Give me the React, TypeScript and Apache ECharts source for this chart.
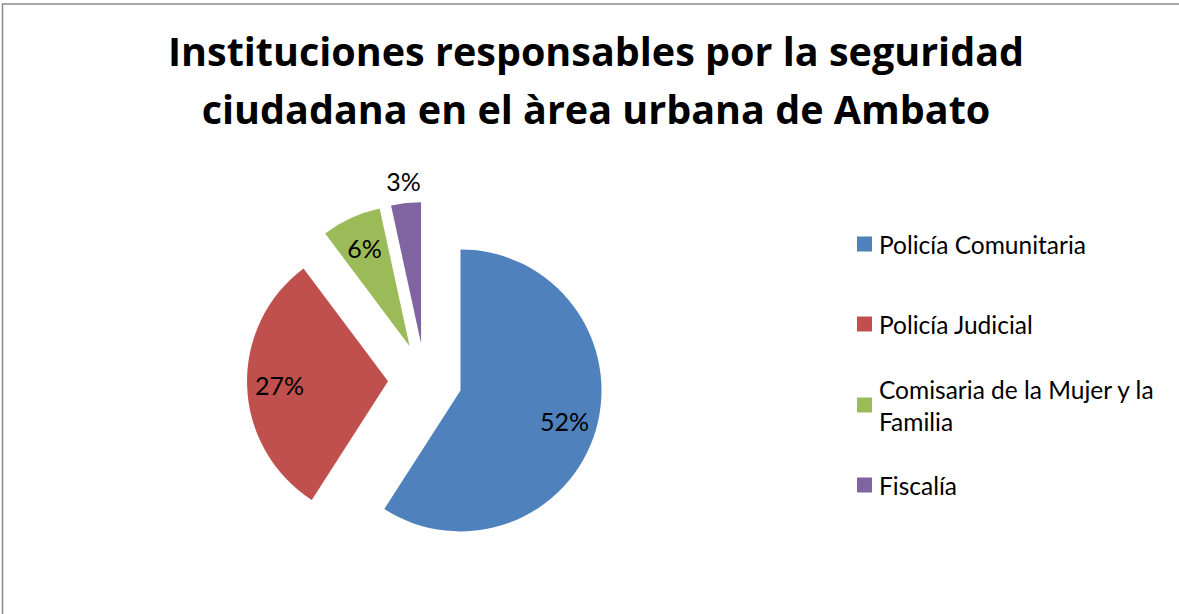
import React, { useEffect, useRef } from "react";
import * as echarts from "echarts";

const categories = ["Policía Comunitaria", "Policía Judicial", "Comisaria de la Mujer y la Familia", "Fiscalía"];
const values = [52, 27, 6, 3];
const colors = ["#4F81BD", "#C0504D", "#9BBB59", "#8064A2"];
const titleLines = ["Instituciones responsables por la seguridad", "ciudadana en el àrea urbana de Ambato"];

const FONT = "Lato, 'Open Sans', sans-serif";
const TITLE_FONT = "'Open Sans', Lato, sans-serif";

export default function App() {
  const ref = useRef<HTMLDivElement>(null);
  useEffect(() => {
    if (!ref.current) return;
    const chart = echarts.init(ref.current, undefined, { renderer: "svg" });
    const center = [425, 380];
    const R = 141;
    const OFF = 37;
    const baseData = (labelShow: (i: number) => boolean, transparent: boolean) =>
      categories.map((name, i) => ({
        name,
        value: values[i],
        selected: true,
        itemStyle: { color: transparent ? "rgba(0,0,0,0)" : colors[i] },
        select: { itemStyle: { color: transparent ? "rgba(0,0,0,0)" : colors[i] } },
        label: { show: labelShow(i) },
      }));
    const labelCommon = {
      position: "inside",
      formatter: "{c}%",
      color: "#000",
      fontFamily: FONT,
      fontSize: 25,
    };
    const legendText = { fontFamily: FONT, fontSize: 24.5, lineHeight: 32, color: "#000", padding: [0, 0, 0, 2] };
    chart.setOption({
      animation: false,
      backgroundColor: "#fff",
      title: {
        text: titleLines.join("\n"),
        left: 596,
        top: 22,
        padding: 0,
        textAlign: "center",
        textStyle: {
          fontFamily: TITLE_FONT,
          fontWeight: "bold",
          fontSize: 39.5,
          lineHeight: 58,
          color: "#000",
        },
      },
      legend: [
        {
          orient: "vertical",
          left: 857,
          top: 228,
          padding: 0,
          itemGap: 48,
          itemWidth: 15,
          itemHeight: 15,
          icon: "rect",
          selectedMode: false,
          textStyle: legendText,
          data: [categories[0], categories[1]],
        },
        {
          orient: "vertical",
          left: 857,
          top: 357,
          padding: 0,
          itemGap: 16,
          itemWidth: 15,
          itemHeight: 15,
          icon: "rect",
          selectedMode: false,
          formatter: (name: string) =>
            name === categories[2] ? "Comisaria de la Mujer y la\nFamilia" : name,
          textStyle: legendText,
          data: [
            { name: categories[2], textStyle: { padding: [32, 0, 0, 2] } },
            categories[3],
          ],
        },
      ],
      graphic: [
        {
          type: "rect",
          shape: { x: 2.5, y: 4, width: 1300, height: 800 },
          style: { fill: "none", stroke: "#8a8a8a", lineWidth: 1.5 },
          silent: true,
        },
      ],
      series: [
        {
          type: "pie",
          center,
          radius: R,
          startAngle: 90,
          clockwise: true,
          selectedMode: "multiple",
          selectedOffset: OFF,
          silent: true,
          emphasis: { disabled: true, scale: false },
          label: { show: false },
          labelLine: { show: false },
          data: baseData(() => false, false),
        },
        {
          type: "pie",
          center,
          radius: [70, R],
          startAngle: 90,
          clockwise: true,
          selectedMode: "multiple",
          selectedOffset: OFF,
          silent: true,
          emphasis: { disabled: true, scale: false },
          label: labelCommon,
          labelLine: { show: false },
          data: baseData((i) => i < 3, true),
        },
        {
          type: "pie",
          center,
          radius: [R, 180],
          startAngle: 90,
          clockwise: true,
          selectedMode: "multiple",
          selectedOffset: OFF,
          silent: true,
          emphasis: { disabled: true, scale: false },
          label: labelCommon,
          labelLine: { show: false },
          data: baseData((i) => i === 3, true),
        },
      ],
    });
    return () => chart.dispose();
  }, []);
  return (
    <div
      ref={ref}
      style={{ position: "fixed", left: 0, top: 0, width: 1179, height: 614, background: "#fff" }}
    />
  );
}
